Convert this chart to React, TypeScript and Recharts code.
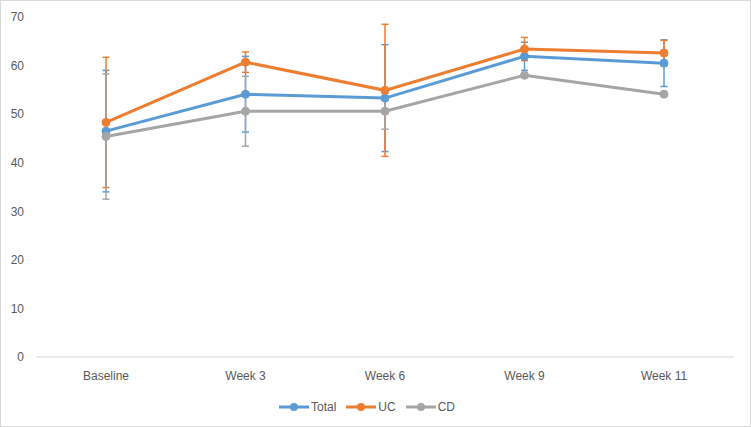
import React from "react";
import { LineChart, Line, XAxis, YAxis, ErrorBar, Legend } from "recharts";

const categories = ["Baseline", "Week 3", "Week 6", "Week 9", "Week 11"];
const totalValues = [46.5, 54.1, 53.3, 61.9, 60.5];
const totalErrors = [12.5, 7.8, 11.0, 2.9, 4.8];
const ucValues = [48.3, 60.7, 54.9, 63.4, 62.6];
const ucErrors = [13.4, 2.1, 13.6, 2.4, 2.6];
const cdValues = [45.4, 50.6, 50.6, 58.0, 54.1];
const cdErrors = [12.9, 7.2, 3.7, 0.3, 0.3];
const yTicks = [0, 10, 20, 30, 40, 50, 60, 70];

const data = categories.map((c, i) => ({
  name: c,
  Total: totalValues[i],
  TotalErr: totalErrors[i],
  UC: ucValues[i],
  UCErr: ucErrors[i],
  CD: cdValues[i],
  CDErr: cdErrors[i],
}));

const COLORS = { Total: "#5B9BD5", UC: "#ED7D31", CD: "#A5A5A5" };
const FONT = "'Liberation Sans', Arial, sans-serif";
const KEYS = ["Total", "UC", "CD"] as const;

const LegendContent = () => (
  <div
    style={{
      height: 30,
      display: "flex",
      justifyContent: "center",
      alignItems: "center",
      fontFamily: FONT,
      fontSize: 12,
      color: "#595959",
    }}
  >
    {KEYS.map((k) => (
      <div key={k} style={{ display: "flex", alignItems: "center", margin: "0 5px" }}>
        <svg width={30} height={10} style={{ marginRight: 2 }}>
          <line x1={0} y1={5} x2={30} y2={5} stroke={COLORS[k]} strokeWidth={3} />
          <circle cx={15} cy={5} r={4} fill={COLORS[k]} />
        </svg>
        <span>{k}</span>
      </div>
    ))}
  </div>
);

export default function App() {
  return (
    <div
      style={{
        position: "absolute",
        left: 0,
        top: 0,
        width: 751,
        height: 427,
        boxSizing: "border-box",
        border: "1px solid #D9D9D9",
        background: "#fff",
      }}
    >
      <div style={{ position: "absolute", left: -1, top: -1 }}>
        <LineChart
          width={751}
          height={427}
          data={data}
          margin={{ top: 17, right: 17, bottom: 5, left: 0 }}
        >
          <XAxis
            dataKey="name"
            axisLine={{ stroke: "#D9D9D9", strokeWidth: 1 }}
            tickLine={false}
            height={35}
            tickMargin={8}
            padding={{ left: 70, right: 70 }}
            tick={{ fill: "#595959", fontSize: 12, fontFamily: FONT }}
          />
          <YAxis
            domain={[0, 70]}
            ticks={yTicks}
            width={36}
            axisLine={false}
            tickLine={false}
            tickMargin={6}
            tick={{ fill: "#595959", fontSize: 12, fontFamily: FONT }}
          />
          <Legend verticalAlign="bottom" content={<LegendContent />} />
          {KEYS.map((k) => (
            <Line
              key={`err-${k}`}
              dataKey={k}
              stroke="none"
              dot={false}
              activeDot={false}
              legendType="none"
              isAnimationActive={false}
            >
              <ErrorBar dataKey={`${k}Err`} stroke={COLORS[k]} strokeWidth={1.5} width={3.5} direction="y" />
            </Line>
          ))}
          {KEYS.map((k) => (
            <Line
              key={`line-${k}`}
              dataKey={k}
              stroke={COLORS[k]}
              strokeWidth={3}
              dot={{ r: 4, fill: COLORS[k], stroke: COLORS[k], strokeWidth: 1 }}
              isAnimationActive={false}
            />
          ))}
        </LineChart>
      </div>
    </div>
  );
}
